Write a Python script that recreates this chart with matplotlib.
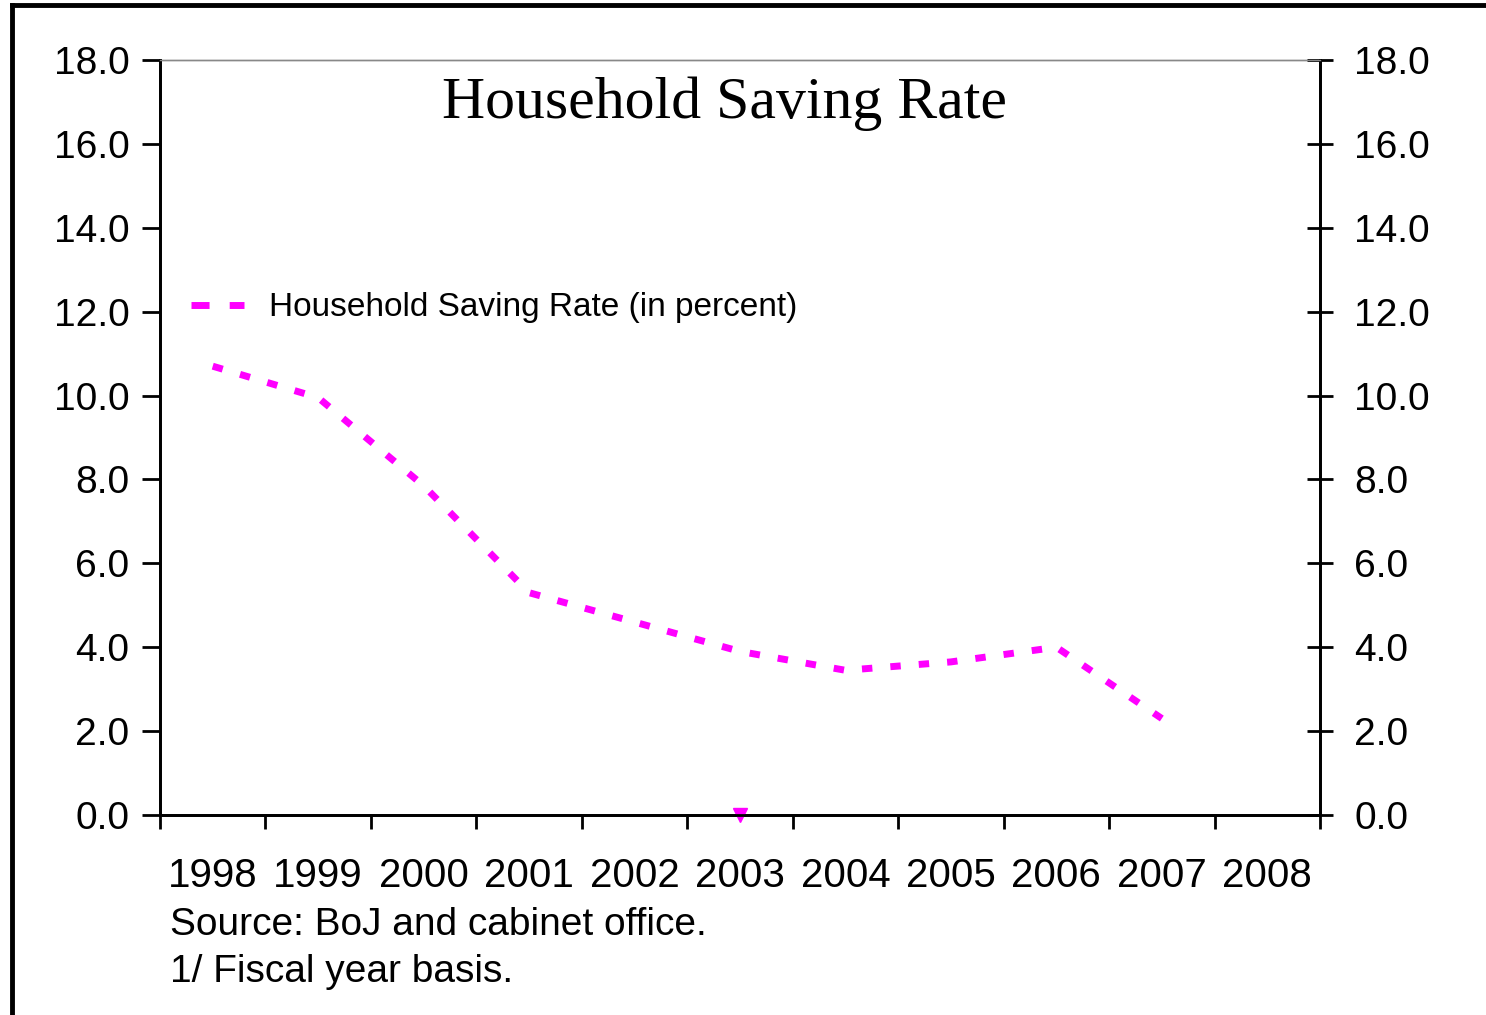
import matplotlib.pyplot as plt
from matplotlib.lines import Line2D
import numpy as np

plt.rcParams['font.family'] = ['Liberation Sans', 'DejaVu Sans']

years = ['1998', '1999', '2000', '2001', '2002', '2003', '2004', '2005', '2006', '2007', '2008']
saving_rate = [10.7, 9.95, 7.85, 5.3, 4.6, 3.9, 3.45, 3.65, 4.0, 2.3, np.nan]
# stray zero marker sitting on the axis at 2003
marker_year = ['2003']
marker_value = [0.0]
yticks = [0, 2, 4, 6, 8, 10, 12, 14, 16, 18]
ylabels = [f'{v:.1f}' for v in yticks]

fig = plt.figure(figsize=(14.86, 10.15), dpi=100)
ax = fig.add_axes([160/1486, 1 - 815/1015, 1160/1486, 755/1015])

xpos = np.arange(len(years)) + 0.5
ax.plot(xpos, saving_rate, color='#ff00ff', lw=5, dashes=(1.5, 2.6),
        dash_capstyle='butt', solid_capstyle='butt')
mx = [years.index(y) + 0.5 for y in marker_year]
ax.plot(mx, marker_value, linestyle='none', marker='v', color='#ff00ff',
        markersize=10, clip_on=False, zorder=5)

ax.set_xlim(0, len(years))
ax.set_ylim(0, 18)

# category boundaries get the tick marks, labels sit between them
ax.set_xticks(np.arange(len(years) + 1))
ax.set_xticklabels([])
ax.set_xticks(xpos, minor=True)
ax.set_xticklabels(years, minor=True, fontsize=29)
ax.tick_params(axis='x', which='major', direction='out', length=10, width=2)
ax.tick_params(axis='x', which='minor', length=0, pad=30)

ax.set_yticks(yticks)
ax.set_yticklabels(ylabels, fontsize=28)
ax.tick_params(axis='y', direction='out', length=13, width=2, pad=9)

# right-hand axis, ticks crossing the spine
ax2 = ax.twinx()
ax2.set_ylim(0, 18)
ax2.set_yticks(yticks)
ax2.set_yticklabels(ylabels, fontsize=28)
ax2.tick_params(axis='y', direction='inout', length=19, width=2, pad=15)

for a in (ax, ax2):
    for side in ['left', 'bottom', 'right']:
        a.spines[side].set_linewidth(2)
        a.spines[side].set_color('black')
    a.spines['top'].set_linewidth(1)
    a.spines['top'].set_color('#888888')

ax.text(0.487, 0.978, 'Household Saving Rate', transform=ax.transAxes,
        ha='center', va='top', fontsize=43, family='Liberation Serif')

handle = Line2D([], [], color='#ff00ff', lw=5, dashes=(2.6, 2.9),
                dash_capstyle='butt')
ax.legend([handle], ['Household Saving Rate (in percent)'], loc='upper left',
          bbox_to_anchor=(0.015, 0.71), frameon=False, fontsize=24,
          handlelength=1.6, handletextpad=0.75, borderaxespad=0)

fig.text(170/1486, 1 - 907/1015, 'Source: BoJ and cabinet office.',
         fontsize=28, va='top')
fig.text(170/1486, 1 - 954/1015, '1/ Fiscal year basis.',
         fontsize=28, va='top')

# outer frame (top and left edges visible)
fig.add_artist(Line2D([12/1486, 1.0], [1 - 5/1015, 1 - 5/1015],
                      transform=fig.transFigure, color='black', lw=3.5))
fig.add_artist(Line2D([12/1486, 12/1486], [0.0, 1 - 5/1015],
                      transform=fig.transFigure, color='black', lw=3.5))

fig.savefig('out.png', dpi=100)
